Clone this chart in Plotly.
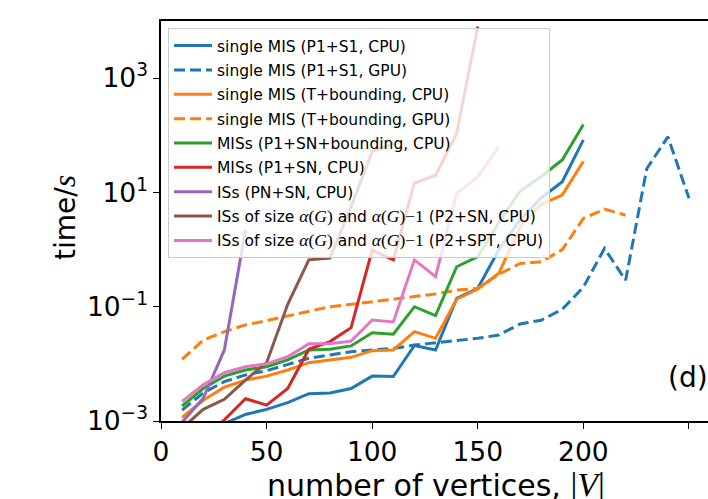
import plotly.graph_objects as go

# ---- data ----
x_p1s1_cpu = [10, 20, 30, 40, 50, 60, 70, 80, 90, 100, 110, 120, 130, 140, 150, 160, 170, 180, 190, 200]
t_p1s1_cpu = [0.0003, 0.0005, 0.0009, 0.0013, 0.0016, 0.0021, 0.0030, 0.0031, 0.0037, 0.0061,
              0.0060, 0.021, 0.0175, 0.14, 0.21, 1.0, 3.3, 8.0, 15.4, 83]

x_p1s1_gpu = [10, 20, 30, 40, 50, 60, 70, 80, 90, 100, 110, 120, 130, 140, 150, 160, 170, 180, 190,
              200, 210, 220, 230, 240, 250]
t_p1s1_gpu = [0.00155, 0.0031, 0.0049, 0.0064, 0.0076, 0.0096, 0.0125, 0.0143, 0.0163, 0.0175,
              0.0186, 0.0214, 0.0234, 0.026, 0.028, 0.032, 0.050, 0.058, 0.09, 0.22, 1.05, 0.29,
              26, 94, 7.9]

x_tb_cpu = [10, 20, 30, 40, 50, 60, 70, 80, 90, 100, 110, 120, 130, 140, 150, 160, 170, 180, 190, 200]
t_tb_cpu = [0.00116, 0.0023, 0.0039, 0.0052, 0.0061, 0.0078, 0.0105, 0.0117, 0.013, 0.017,
            0.0175, 0.0366, 0.028, 0.135, 0.204, 0.385, 2.5, 6.2, 9.0, 35]

x_tb_gpu = [10, 20, 30, 40, 50, 60, 70, 80, 90, 100, 110, 120, 130, 140, 150, 160, 170, 180, 190,
            200, 210, 220]
t_tb_gpu = [0.012, 0.026, 0.0366, 0.048, 0.057, 0.069, 0.082, 0.10, 0.11, 0.123, 0.137, 0.151,
            0.167, 0.195, 0.21, 0.37, 0.57, 0.61, 1.0, 3.5, 5.1, 4.0]

x_miss_b = [10, 20, 30, 40, 50, 60, 70, 80, 90, 100, 110, 120, 130, 140, 150, 160, 170, 180, 190, 200]
t_miss_b = [0.00183, 0.0037, 0.0061, 0.0078, 0.0089, 0.0117, 0.0175, 0.018, 0.0206, 0.035,
            0.033, 0.10, 0.07, 0.50, 0.75, 3.0, 10.5, 19, 37, 155]

x_miss = [10, 20, 30, 40, 50, 60, 70, 80, 90, 100, 110, 120, 130, 140, 150]
t_miss = [0.0003, 0.0005, 0.00105, 0.00245, 0.0019, 0.0037, 0.018, 0.0245, 0.043, 0.98, 0.66,
          14.5, 20, 108, 8000]

x_iss = [10, 20, 30, 40]
t_iss = [0.00095, 0.0025, 0.0175, 2.2]

x_iss_sn = [10, 20, 30, 40, 50, 60, 70, 80, 90, 100, 110]
t_iss_sn = [0.00075, 0.0016, 0.0024, 0.0052, 0.0105, 0.11, 0.66, 0.71, 5.6, 52, 72]

x_iss_spt = [10, 20, 30, 40, 50, 60, 70, 80, 90, 100, 110, 120, 130, 140, 150, 160]
t_iss_spt = [0.0022, 0.0043, 0.007, 0.0089, 0.010, 0.0133, 0.0224, 0.0224, 0.025, 0.0586, 0.054,
             0.66, 0.335, 9.7, 18.8, 63]

x_ticks = [0, 50, 100, 150, 200, 250]
y_ticks = [1e-3, 1e-1, 1e1, 1e3]
y_tick_text = ["10<sup>\u22123</sup>", "10<sup>\u22121</sup>", "10<sup>1</sup>", "10<sup>3</sup>"]

SERIF = "font-family:'Liberation Serif','DejaVu Serif',serif;font-size:17.5px"
alpha_g = f"<span style=\"{SERIF}\"><i>\u03b1</i>(<i>G</i>)</span>"
alpha_g1 = f"<span style=\"{SERIF}\"><i>\u03b1</i>(<i>G</i>)\u22121</span>"

BLUE, ORANGE, GREEN, RED, PURPLE, BROWN, PINK = (
    "#1f77b4", "#ff7f0e", "#2ca02c", "#d62728", "#9467bd", "#8c564b", "#e377c2")

series = [
    ("single MIS (P1+S1, CPU)", x_p1s1_cpu, t_p1s1_cpu, BLUE, "solid"),
    ("single MIS (P1+S1, GPU)", x_p1s1_gpu, t_p1s1_gpu, BLUE, "11px,5px"),
    ("single MIS (T+bounding, CPU)", x_tb_cpu, t_tb_cpu, ORANGE, "solid"),
    ("single MIS (T+bounding, GPU)", x_tb_gpu, t_tb_gpu, ORANGE, "11px,5px"),
    ("MISs (P1+SN+bounding, CPU)", x_miss_b, t_miss_b, GREEN, "solid"),
    ("MISs (P1+SN, CPU)", x_miss, t_miss, RED, "solid"),
    ("ISs (PN+SN, CPU)", x_iss, t_iss, PURPLE, "solid"),
    (f"ISs of size {alpha_g} and {alpha_g1} (P2+SN, CPU)", x_iss_sn, t_iss_sn, BROWN, "solid"),
    (f"ISs of size {alpha_g} and {alpha_g1} (P2+SPT, CPU)", x_iss_spt, t_iss_spt, PINK, "solid"),
]

fig = go.Figure()
for i, (name, xs, ys, col, dash) in enumerate(series):
    fig.add_trace(go.Scatter(x=xs, y=ys, mode="lines", name=name, legendgroup=f"g{i}",
                             line=dict(color=col, width=3, dash=dash)))

L, T, B = 161, 21, 78
W, H = 708, 499
pw, ph = W - L, H - T - B

fig.update_layout(
    width=W, height=H,
    margin=dict(l=L, r=0, t=T, b=B, autoexpand=False),
    plot_bgcolor="white", paper_bgcolor="white",
    font=dict(family="DejaVu Sans", color="black"),
    showlegend=True,
    legend=dict(x=7 / pw, y=1 - 7 / ph, xanchor="left", yanchor="top",
                bgcolor="rgba(255,255,255,0.8)", bordercolor="#cccccc", borderwidth=1,
                font=dict(size=15.5, family="DejaVu Sans", color="black"),
                itemwidth=38, tracegroupgap=1.2),
)
fig.update_xaxes(range=[0, 259], tickvals=x_ticks, ticks="outside", ticklen=6, tickwidth=1.2,
                 tickcolor="black", showline=True, linecolor="black", linewidth=1.5,
                 mirror=True, showgrid=False, zeroline=False,
                 tickfont=dict(size=26.5, family="DejaVu Sans"), automargin=False)
fig.update_yaxes(type="log", range=[-3, 4], tickvals=y_ticks, ticktext=y_tick_text,
                 ticks="outside", ticklen=6, tickwidth=1.2, tickcolor="black",
                 showline=True, linecolor="black", linewidth=1.5, showgrid=False,
                 zeroline=False, tickfont=dict(size=26.5, family="DejaVu Sans"), automargin=False)

fig.add_annotation(xref="paper", yref="paper", x=(436 - L) / pw, y=-(484 - (T + ph)) / ph,
                   xanchor="center", yanchor="middle", showarrow=False,
                   text="number of vertices, <span style=\"font-family:'Liberation Serif',serif;font-size:34px\">|<i>V</i>|</span>",
                   font=dict(size=30, family="DejaVu Sans", color="black"))
fig.add_annotation(xref="paper", yref="paper", x=-(L - 64) / pw, y=1 - (218 - T) / ph,
                   xanchor="center", yanchor="middle", showarrow=False, textangle=-90,
                   text="time/<span style=\"font-family:'Liberation Serif',serif;font-size:32px\"><i>s</i></span>",
                   font=dict(size=28, family="DejaVu Sans", color="black"))
fig.add_annotation(xref="paper", yref="paper", x=(688 - L) / pw, y=(T + ph - 377) / ph,
                   xanchor="center", yanchor="middle", showarrow=False, text="(d)",
                   font=dict(size=28, family="DejaVu Sans", color="black"))

fig.write_html("out.html", config={"displayModeBar": False},
               post_script="document.body.style.margin='0px';document.body.style.overflow='hidden';")
